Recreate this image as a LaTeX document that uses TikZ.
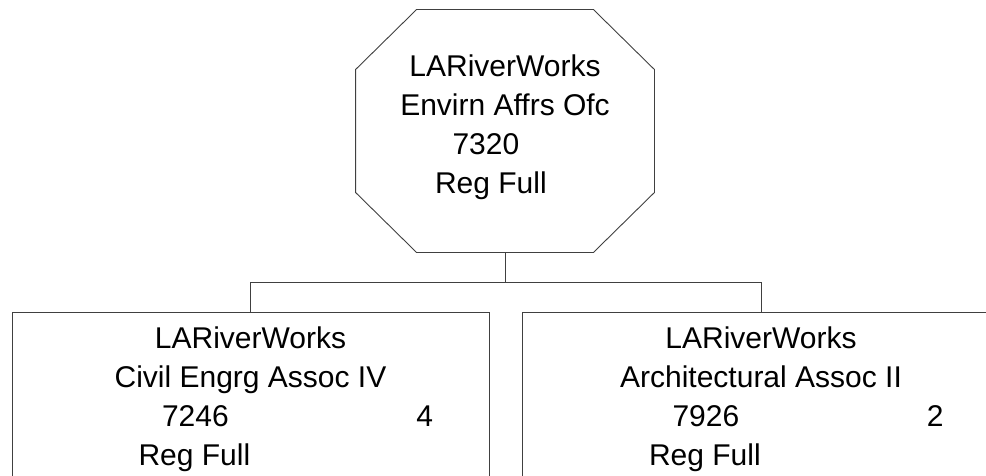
\documentclass[tikz,border=0pt]{standalone}
\usepackage{fontspec}
\setmainfont{Liberation Sans}
\begin{document}
\begin{tikzpicture}[x=1pt,y=-1pt,line width=0.9pt,draw=black!75,
  every node/.style={font=\fontsize{30}{39}\selectfont,align=center,inner sep=0pt}]
  \clip (0,0) rectangle (986,476);

  \node[minimum width=298pt,minimum height=242pt] (envirn) at (505,131)
    {LARiverWorks\\Envirn Affrs Ofc\\\makebox[105pt][l]{7320}\\\makebox[140pt][l]{Reg Full}\rule[-14pt]{0pt}{1pt}};
  \draw ([xshift=61pt]envirn.north west) -- ([xshift=-61pt]envirn.north east)
     -- ([yshift=-60pt]envirn.north east) -- ([yshift=60pt]envirn.south east)
     -- ([xshift=-61pt]envirn.south east) -- ([xshift=61pt]envirn.south west)
     -- ([yshift=60pt]envirn.south west) -- ([yshift=-60pt]envirn.north west) -- cycle;

  \node[draw,anchor=north,minimum width=477pt,inner ysep=14pt] (civil) at (250.5,312)
    {LARiverWorks\\Civil Engrg Assoc IV\\\makebox[365pt][l]{\hspace{94pt}7246\hfill 4}\\\makebox[224pt][l]{Reg Full}};
  \node[draw,anchor=north,minimum width=478pt,inner ysep=14pt] (arch) at (761,312)
    {LARiverWorks\\Architectural Assoc II\\\makebox[365pt][l]{\hspace{94pt}7926\hfill 2}\\\makebox[224pt][l]{Reg Full}};

  \draw (envirn.south) -- ++(0,30) coordinate (bus);
  \draw (civil.north) |- (bus) -| (arch.north);
\end{tikzpicture}
\end{document}
